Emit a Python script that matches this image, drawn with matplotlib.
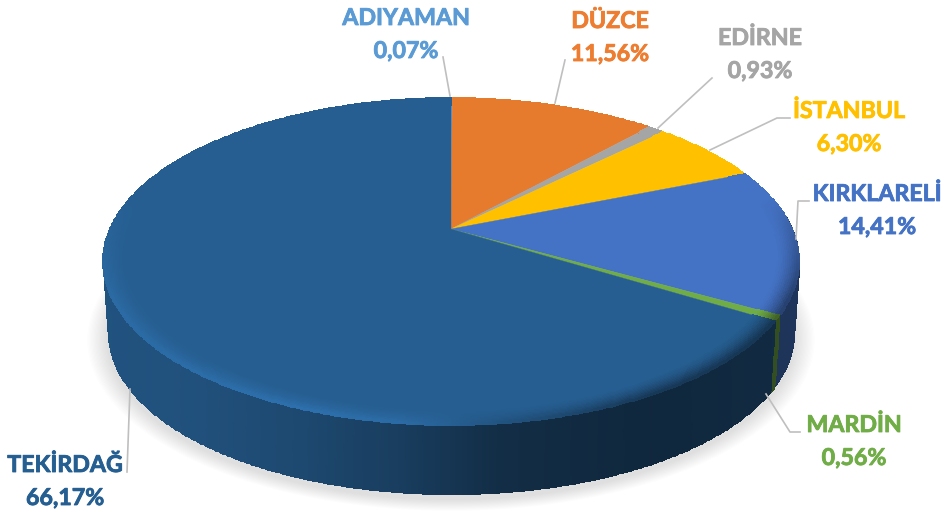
import numpy as np
import matplotlib
matplotlib.use('Agg')
import matplotlib.pyplot as plt
import matplotlib.patheffects as pe
from matplotlib.colors import to_rgb

names = ['ADIYAMAN', 'DÜZCE', 'EDİRNE', 'İSTANBUL', 'KIRKLARELİ', 'MARDİN', 'TEKİRDAĞ']
values = [0.07, 11.56, 0.93, 6.30, 14.41, 0.56, 66.17]
labels = ['0,07%', '11,56%', '0,93%', '6,30%', '14,41%', '0,56%', '66,17%']
colors = ['#5B9BD5', '#E67B2E', '#A5A5A5', '#FFC000', '#4472C4', '#70AD47', '#265E91']
text_colors = ['#5B9BD5', '#ED7D31', '#A5A5A5', '#FFC000', '#4472C4', '#70AD47', '#255E91']

# pie geometry in pixels
cx, cy = 451, 229
k = 0.1988
a = 157
b = 341
depth = 72


def project(theta, r=1.0, drop=0.0, scale=1.0):
    # theta is clockwise from 12 o'clock, pie circle seen in perspective
    u = r * np.sin(theta)
    v = r * np.cos(theta)
    w = 1 + k * v
    return cx + scale * b * u / w, cy - scale * a * v / w + drop


def side_shade(x):
    return np.interp(x, [103, 200, 300, 400, 500, 650, 800],
                     [0.88, 0.85, 0.77, 0.65, 0.48, 0.42, 0.46])


def rim_light(x):
    return np.interp(x, [103, 300, 400, 500, 650, 800],
                     [0.13, 0.2, 0.14, -0.12, -0.42, -0.45])


fig = plt.figure(figsize=(9.41, 5.12), dpi=100)
ax = fig.add_axes([0, 0, 1, 1])
ax.axis('off')

edges = np.concatenate([[0], np.cumsum(values)]) / 100 * 2 * np.pi

# soft shadow under the pie
circle = np.linspace(0, 2 * np.pi, 300)
for grow in np.linspace(1.045, 0.99, 16):
    sx, sy = project(circle, drop=depth + 5, scale=grow)
    ax.fill(sx, sy, color='#666666', alpha=0.012, lw=0, zorder=1)

# outer side wall
for i, col in enumerate(colors):
    t0 = max(edges[i], np.radians(85))
    t1 = min(edges[i + 1], np.radians(285))
    if t1 <= t0:
        continue
    th = np.linspace(t0, t1, max(3, int(np.degrees(t1 - t0) * 3)))
    tx, ty = project(th)
    bx, by = project(th, drop=depth, scale=0.985)
    s = np.linspace(0, 1, 9)[:, None]
    X = tx + (bx - tx) * s
    Y = ty + (by - ty) * s
    xm = 0.25 * (X[:-1, :-1] + X[1:, :-1] + X[:-1, 1:] + X[1:, 1:])
    C = np.clip(np.array(to_rgb(col)) * side_shade(xm)[..., None], 0, 1)
    ax.pcolormesh(X, Y, C, shading='flat', edgecolors='face', linewidth=0.4, zorder=2)

# top face
for i, col in enumerate(colors):
    th = np.linspace(edges[i], edges[i + 1], max(3, int(np.degrees(edges[i + 1] - edges[i]) * 2)))
    fx, fy = project(th)
    ax.fill(np.r_[cx, fx], np.r_[cy, fy], color=col, lw=0.3, zorder=3)

# rounded rim of the top face
radii = np.linspace(0.94, 1.0, 13)
for i, col in enumerate(colors):
    th = np.linspace(edges[i], edges[i + 1], max(3, int(np.degrees(edges[i + 1] - edges[i]) * 2)))
    rr, tt = np.meshgrid(radii, th, indexing='ij')
    X, Y = project(tt, rr)
    xm = 0.25 * (X[:-1, :-1] + X[1:, :-1] + X[:-1, 1:] + X[1:, 1:])
    rm = 0.5 * (rr[:-1, :-1] + rr[1:, :-1])
    tm = 0.5 * (tt[:-1, :-1] + tt[:-1, 1:])
    prof = ((rm - radii[0]) / (1 - radii[0])) ** 1.5
    front = np.clip((0.2 - np.cos(tm)) / 0.6, 0, 1)
    C = np.array(to_rgb(col)) * (1 + prof * front * rim_light(xm))[..., None]
    ax.pcolormesh(X, Y, np.clip(C, 0, 1), shading='flat', edgecolors='face', linewidth=0.3, zorder=4)

# leader lines
leaders = [
    ([443, 450], [57, 96]),
    ([565, 555], [60, 103]),
    ([712, 658], [78, 128]),
    ([790, 777, 710], [118, 118, 150]),
    ([809, 798, 796], [201, 201, 239]),
    ([800, 790, 766], [432, 432, 394]),
    ([130, 127], [389, 472]),
]
for lx, ly in leaders:
    ax.plot(lx, ly, color='#BFBFBF', lw=1.2, zorder=5)

label_pos = [(406, 18.5), (610, 21.5), (760, 38.5), (849, 111.5), (877, 194.5), (854, 425.5), (65, 465.5)]
for name, lab, col, (tx, ty) in zip(names, labels, text_colors, label_pos):
    for txt, yy in ((name, ty), (lab, ty + 33)):
        t = ax.text(tx, yy, txt, color=col, family='Lato', weight='bold', fontsize=16.7,
                    ha='center', va='center', zorder=6)
        t.set_path_effects([pe.withStroke(linewidth=0.6, foreground=col)])

ax.set_xlim(0, 941)
ax.set_ylim(512, 0)
fig.savefig('out.png', dpi=100)
